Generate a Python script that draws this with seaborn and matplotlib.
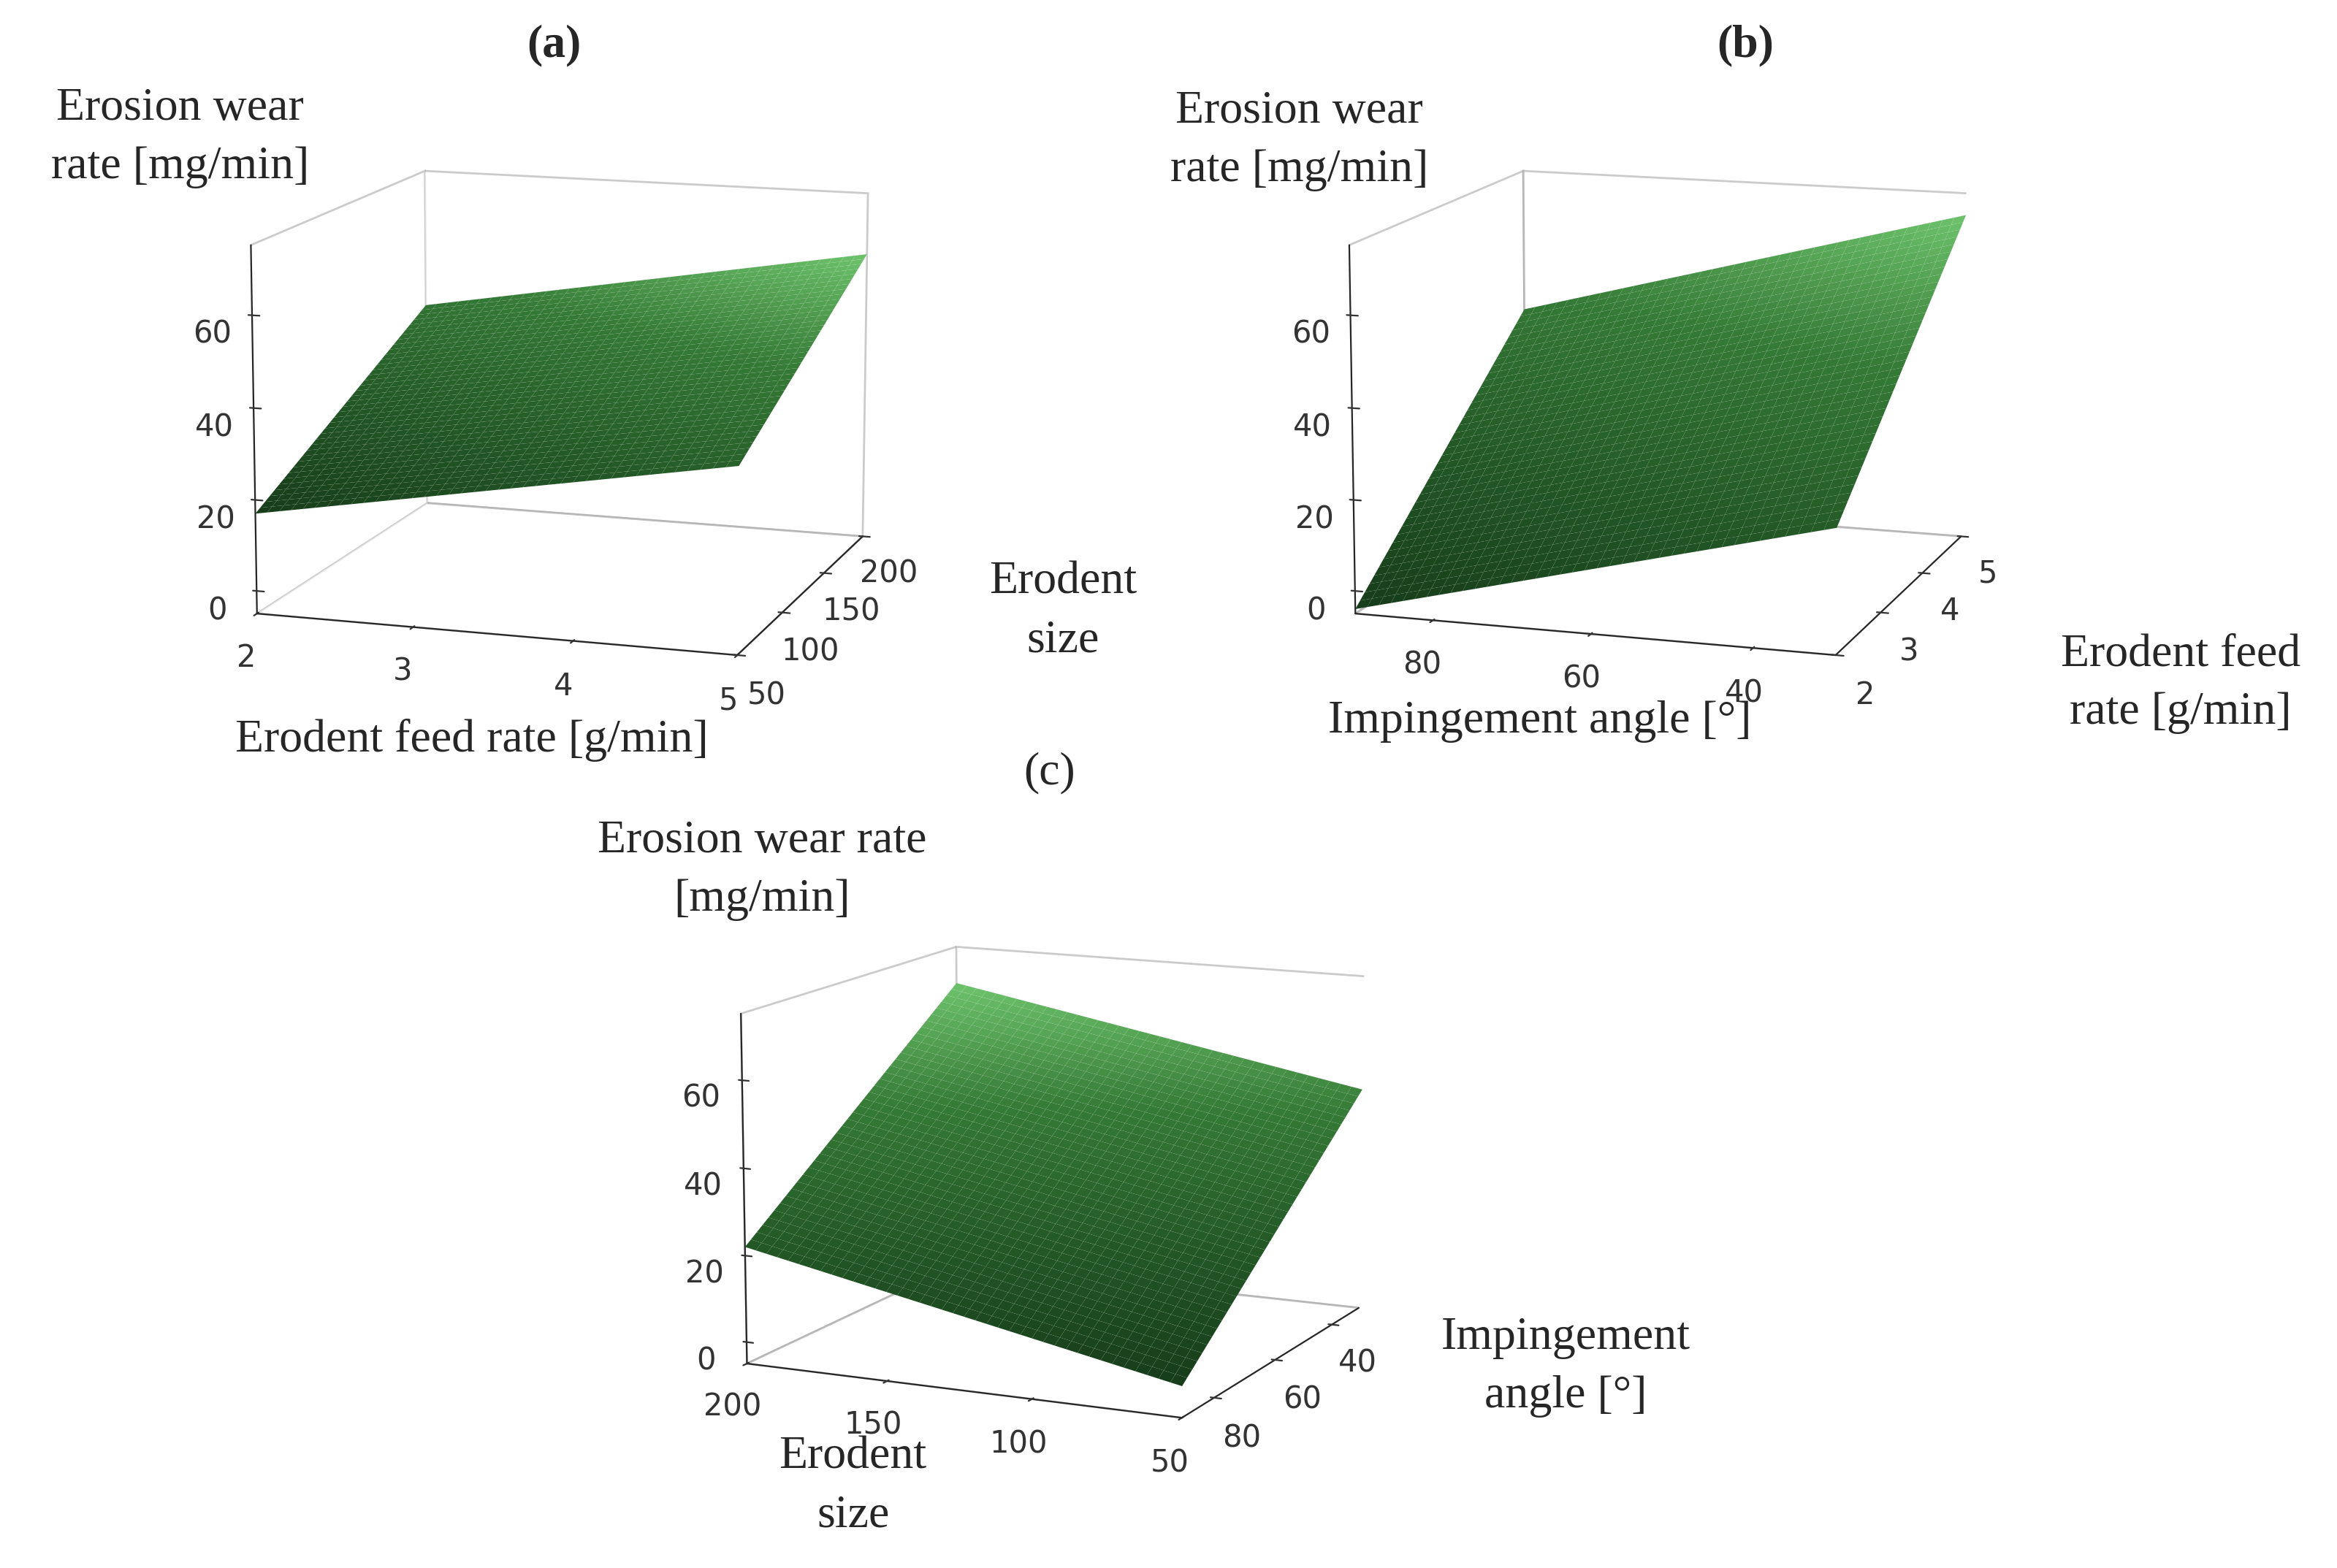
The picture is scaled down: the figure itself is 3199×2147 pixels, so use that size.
import numpy as np
import matplotlib
matplotlib.use("Agg")
import matplotlib.pyplot as plt
import seaborn as sns
from matplotlib.colors import ListedColormap

sns.set_style("white")

# Panel (a): erodent feed rate x erodent size
feed_a = [2, 5]
size_a = [50, 200]
z_a = [[17, 35], [43, 61]]          # rows: size, cols: feed

# Panel (b): impingement angle x erodent feed rate
angle_b = [90, 30]
feed_b = [2, 5]
z_b = [[-4, 22], [42, 70]]          # rows: feed, cols: angle

# Panel (c): erodent size x impingement angle
size_c = [200, 50]
angle_c = [90, 30]
z_c = [[22, 2], [66, 48]]           # rows: angle, cols: size

serif = "Liberation Serif"
cmap = ListedColormap(sns.blend_palette(["#173d1a", "#245a27", "#357a36", "#6cc06a"], 256))

fig = plt.figure(figsize=(15.995, 10.735), dpi=200)

def panel(rect, xv, yv, zv, xt, yt, xlim, ylim, elev, azim):
    ax = fig.add_axes(rect, projection="3d")
    X, Y = np.meshgrid(np.linspace(xv[0], xv[1], 40), np.linspace(yv[0], yv[1], 40))
    z = np.array(zv, dtype=float)
    u = (X - xv[0]) / (xv[1] - xv[0]); v = (Y - yv[0]) / (yv[1] - yv[0])
    Z = z[0, 0]*(1-u)*(1-v) + z[0, 1]*u*(1-v) + z[1, 0]*(1-u)*v + z[1, 1]*u*v
    ax.plot_surface(X, Y, Z, cmap=cmap, linewidth=0, antialiased=True,
                    shade=True, rstride=1, cstride=1)
    ax.set_xlim(*xlim); ax.set_ylim(*ylim); ax.set_zlim(-5, 75)
    ax.set_xticks(xt); ax.set_yticks(yt); ax.set_zticks([0, 20, 40, 60])
    for a in (ax.xaxis, ax.yaxis, ax.zaxis):
        a.pane.set_facecolor("white"); a.pane.set_edgecolor("#999999")
        a._axinfo["grid"]["linewidth"] = 0
    ax.zaxis._axinfo["juggled"] = (1, 2, 0)
    ax.grid(False)
    ax.tick_params(labelsize=15, colors="#333333")
    ax.view_init(elev=12, azim=azim)
    return ax

panel([0.03, 0.50, 0.42, 0.48], feed_a, size_a, z_a, [2, 3, 4, 5], [50, 100, 150, 200],
      (2, 5), (50, 200), 12, -72)
panel([0.50, 0.50, 0.42, 0.48], angle_b, feed_b, z_b, [80, 60, 40], [2, 3, 4, 5],
      (90, 30), (2, 5), 12, -72)
panel([0.25, 0.02, 0.40, 0.46], size_c, angle_c, z_c, [200, 150, 100, 50], [80, 60, 40],
      (200, 50), (90, 30), 14, -65)

def t(x, y, s, **kw):
    fig.text(x, y, s, ha="center", va="center", fontfamily=serif, fontsize=23,
             linespacing=1.5, **kw)

t(0.237, 0.971, "(a)", fontweight="bold")
t(0.747, 0.971, "(b)", fontweight="bold")
t(0.449, 0.507, "(c)")
t(0.077, 0.912, "Erosion wear\nrate [mg/min]")
t(0.202, 0.528, "Erodent feed rate [g/min]")
t(0.455, 0.61, "Erodent\nsize")
t(0.556, 0.91, "Erosion wear\nrate [mg/min]")
t(0.659, 0.54, "Impingement angle [°]")
t(0.933, 0.564, "Erodent feed\nrate [g/min]")
t(0.326, 0.445, "Erosion wear rate\n[mg/min]")
t(0.365, 0.052, "Erodent\nsize")
t(0.67, 0.128, "Impingement\nangle [°]")

fig.savefig("out.png", dpi=200)
